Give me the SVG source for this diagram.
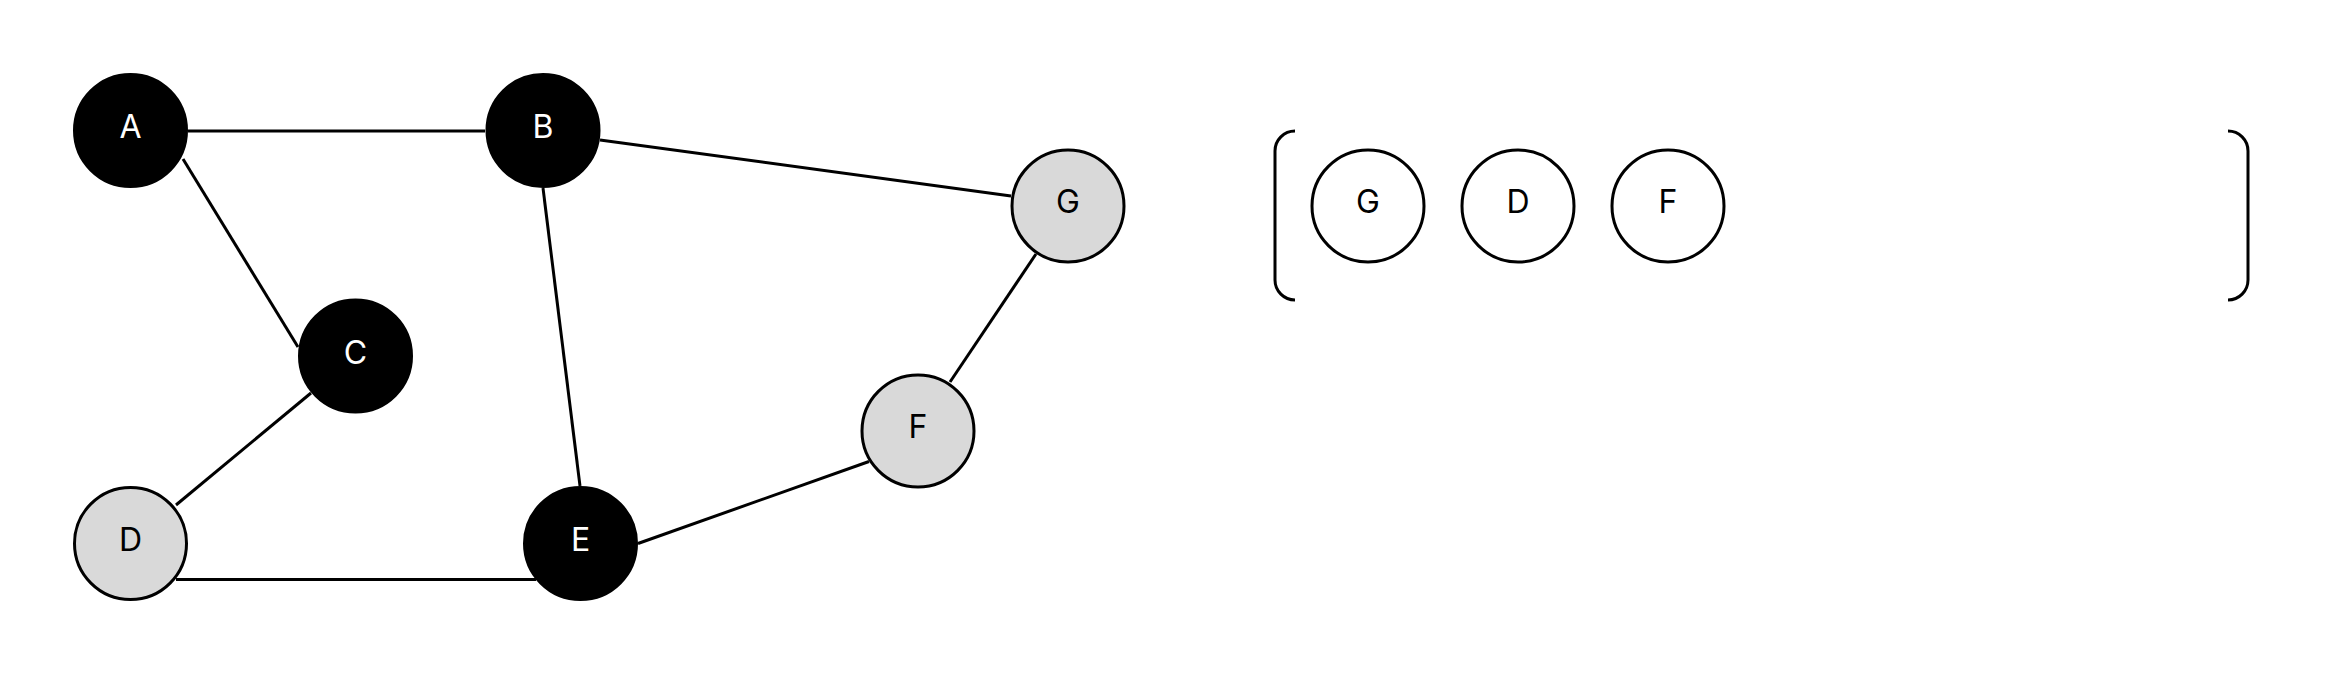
<svg xmlns="http://www.w3.org/2000/svg" width="2325" height="675" viewBox="0 0 2325 675" shape-rendering="geometricPrecision">
<style>
.edge{stroke:#000;stroke-width:3;fill:none}
.visited circle{fill:#000;stroke:#000;stroke-width:3}
.visited text{fill:#fff}
.frontier circle{fill:#d9d9d9;stroke:#000;stroke-width:3}
.queued circle{fill:#fff;stroke:#000;stroke-width:3}
text{font-family:Inter,"Liberation Sans",sans-serif;font-size:32px;text-anchor:middle;fill:#000}
.bracket{stroke:#000;stroke-width:3;fill:none}
</style>
<rect width="2325" height="675" fill="#fff"/>
<g id="edges">
<line class="edge" x1="188" y1="131" x2="485" y2="131"/>
<line class="edge" x1="183" y1="159" x2="298" y2="347"/>
<line class="edge" x1="600" y1="140" x2="1011" y2="196"/>
<line class="edge" x1="543" y1="188" x2="580" y2="486"/>
<line class="edge" x1="311" y1="393" x2="176" y2="505"/>
<line class="edge" x1="176" y1="579.5" x2="536" y2="579.5"/>
<line class="edge" x1="638" y1="543.5" x2="869" y2="461.5"/>
<line class="edge" x1="950" y1="382" x2="1036" y2="254"/>
</g>
<g id="node-A" class="visited"><circle cx="130.5" cy="130.5" r="56"/><text x="130.5" y="138">A</text></g>
<g id="node-B" class="visited"><circle cx="543" cy="130.5" r="56"/><text x="543" y="138">B</text></g>
<g id="node-C" class="visited"><circle cx="355.5" cy="356" r="56"/><text x="355.5" y="363.5">C</text></g>
<g id="node-D" class="frontier"><circle cx="130.5" cy="543.5" r="56"/><text x="130.5" y="550.5">D</text></g>
<g id="node-E" class="visited"><circle cx="580.5" cy="543.5" r="56"/><text x="580.5" y="550.5">E</text></g>
<g id="node-F" class="frontier"><circle cx="918" cy="431" r="56"/><text x="918" y="438">F</text></g>
<g id="node-G" class="frontier"><circle cx="1068" cy="206" r="56"/><text x="1068" y="213">G</text></g>
<g id="queue">
<path class="bracket" d="M1295,131 A20,20 0 0 0 1275,151 V280 A20,20 0 0 0 1295,300"/>
<path class="bracket" d="M2228,131 A20,20 0 0 1 2248,151 V280 A20,20 0 0 1 2228,300"/>
</g>
<g id="queue-G" class="queued"><circle cx="1368" cy="206" r="56"/><text x="1368" y="213">G</text></g>
<g id="queue-D" class="queued"><circle cx="1518" cy="206" r="56"/><text x="1518" y="213">D</text></g>
<g id="queue-F" class="queued"><circle cx="1668" cy="206" r="56"/><text x="1668" y="213">F</text></g>
</svg>
